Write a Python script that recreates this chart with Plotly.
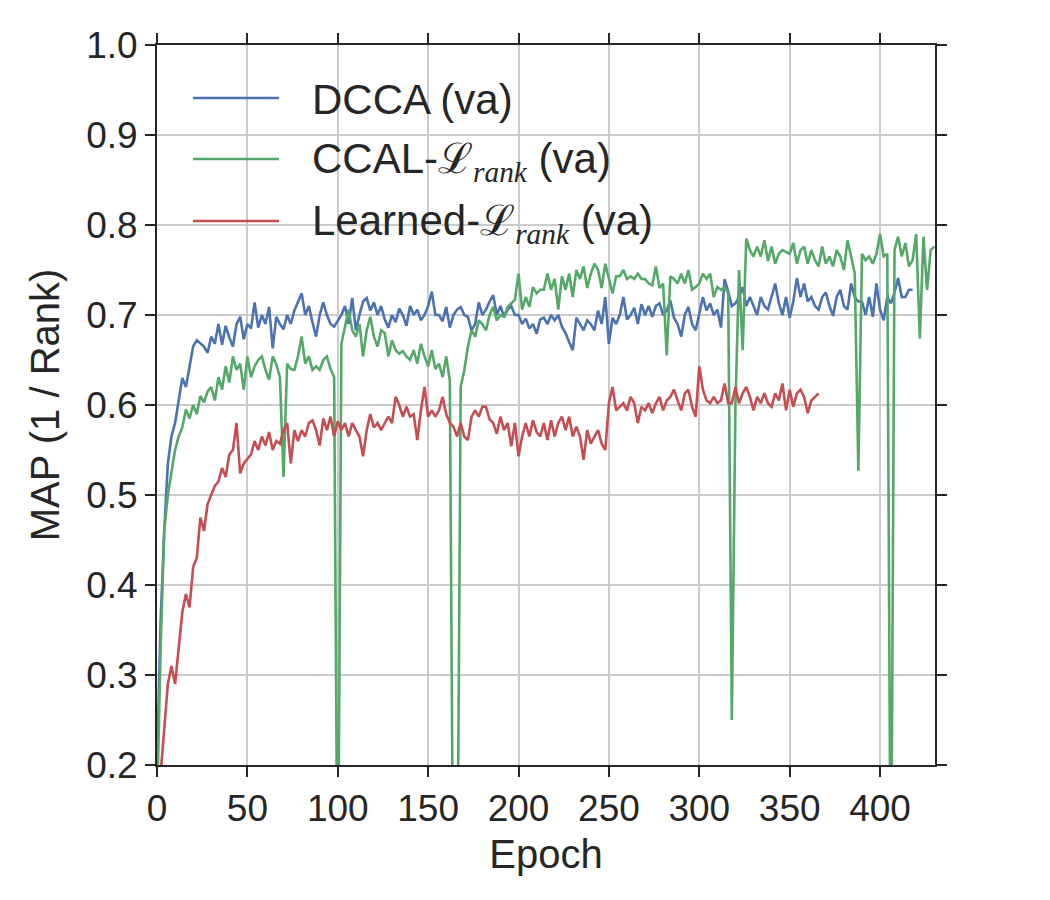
import plotly.graph_objects as go

# ---------------- data ----------------
dcca_epochs = list(range(0, 420, 2))
dcca_map = [
    0.20, 0.36, 0.46, 0.535, 0.565, 0.58, 0.605, 0.63, 0.62, 0.645,
    0.665, 0.672, 0.668, 0.665, 0.658, 0.676, 0.668, 0.69, 0.667, 0.688,
    0.675, 0.665, 0.69, 0.698, 0.673, 0.69, 0.685, 0.714, 0.686, 0.70,
    0.69, 0.709, 0.663, 0.698, 0.69, 0.684, 0.70, 0.69, 0.705, 0.715,
    0.724, 0.70, 0.71, 0.692, 0.676, 0.70, 0.714, 0.70, 0.69, 0.687,
    0.694, 0.70, 0.71, 0.69, 0.719, 0.683, 0.70, 0.715, 0.719, 0.705,
    0.714, 0.70, 0.71, 0.695, 0.686, 0.70, 0.692, 0.707, 0.70, 0.688,
    0.71, 0.70, 0.706, 0.694, 0.70, 0.71, 0.726, 0.70, 0.70, 0.693,
    0.709, 0.686, 0.70, 0.706, 0.709, 0.70, 0.698, 0.683, 0.69, 0.714,
    0.70, 0.706, 0.715, 0.722, 0.70, 0.71, 0.698, 0.706, 0.71, 0.70,
    0.70, 0.69, 0.696, 0.685, 0.69, 0.679, 0.695, 0.697, 0.69, 0.70,
    0.694, 0.70, 0.687, 0.68, 0.67, 0.661, 0.697, 0.69, 0.683, 0.694,
    0.69, 0.683, 0.705, 0.69, 0.72, 0.668, 0.697, 0.69, 0.70, 0.72,
    0.695, 0.70, 0.708, 0.69, 0.712, 0.70, 0.71, 0.698, 0.71, 0.713,
    0.70, 0.705, 0.716, 0.697, 0.69, 0.676, 0.70, 0.709, 0.69, 0.683,
    0.70, 0.72, 0.705, 0.713, 0.70, 0.706, 0.686, 0.74, 0.726, 0.71,
    0.713, 0.72, 0.731, 0.71, 0.72, 0.709, 0.70, 0.72, 0.71, 0.706,
    0.722, 0.735, 0.713, 0.70, 0.72, 0.697, 0.715, 0.741, 0.72, 0.735,
    0.715, 0.72, 0.71, 0.706, 0.72, 0.725, 0.71, 0.699, 0.72, 0.728,
    0.71, 0.706, 0.735, 0.72, 0.715, 0.715, 0.70, 0.72, 0.698, 0.735,
    0.706, 0.694, 0.72, 0.713, 0.725, 0.741, 0.72, 0.72, 0.728, 0.728,
]

ccal_epochs = list(range(0, 432, 2))
ccal_map = [
    0.15, 0.33, 0.46, 0.50, 0.525, 0.55, 0.565, 0.575, 0.595, 0.585,
    0.60, 0.59, 0.61, 0.603, 0.615, 0.62, 0.605, 0.631, 0.617, 0.643,
    0.625, 0.654, 0.639, 0.646, 0.617, 0.654, 0.631, 0.643, 0.65, 0.654,
    0.639, 0.628, 0.654, 0.645, 0.631, 0.52, 0.646, 0.64, 0.639, 0.654,
    0.676, 0.646, 0.654, 0.639, 0.643, 0.639, 0.65, 0.654, 0.64, 0.631,
    0.0, 0.668, 0.687, 0.706, 0.683, 0.676, 0.69, 0.654, 0.683, 0.698,
    0.676, 0.665, 0.683, 0.68, 0.654, 0.672, 0.661, 0.657, 0.66, 0.654,
    0.65, 0.661, 0.646, 0.668, 0.654, 0.643, 0.661, 0.64, 0.646, 0.631,
    0.654, 0.627, 0.0, 0.0, 0.62, 0.639, 0.665, 0.683, 0.676, 0.694,
    0.69, 0.683, 0.70, 0.709, 0.694, 0.70, 0.698, 0.709, 0.713, 0.717,
    0.746, 0.706, 0.72, 0.709, 0.731, 0.724, 0.728, 0.728, 0.746, 0.728,
    0.74, 0.706, 0.743, 0.728, 0.746, 0.72, 0.75, 0.74, 0.754, 0.73,
    0.746, 0.757, 0.75, 0.73, 0.757, 0.74, 0.724, 0.743, 0.743, 0.75,
    0.74, 0.743, 0.74, 0.746, 0.74, 0.74, 0.735, 0.733, 0.754, 0.73,
    0.735, 0.655, 0.743, 0.74, 0.735, 0.746, 0.735, 0.75, 0.728, 0.731,
    0.735, 0.746, 0.74, 0.746, 0.72, 0.731, 0.728, 0.731, 0.724, 0.25,
    0.60, 0.75, 0.661, 0.785, 0.772, 0.765, 0.776, 0.765, 0.783, 0.76,
    0.776, 0.757, 0.768, 0.772, 0.77, 0.768, 0.78, 0.757, 0.772, 0.776,
    0.757, 0.772, 0.761, 0.754, 0.776, 0.757, 0.765, 0.754, 0.772, 0.765,
    0.75, 0.783, 0.765, 0.746, 0.527, 0.768, 0.761, 0.765, 0.757, 0.768,
    0.79, 0.765, 0.768, 0.0, 0.772, 0.787, 0.765, 0.78, 0.754, 0.761,
    0.79, 0.674, 0.787, 0.728, 0.772, 0.776,
]

learned_epochs = list(range(2, 368, 2))
learned_map = [
    0.19, 0.245, 0.29, 0.31, 0.29, 0.33, 0.37, 0.39, 0.375, 0.42,
    0.43, 0.475, 0.46, 0.49, 0.50, 0.51, 0.515, 0.53, 0.52, 0.545,
    0.55, 0.58, 0.524, 0.535, 0.54, 0.545, 0.56, 0.55, 0.565, 0.555,
    0.57, 0.55, 0.56, 0.557, 0.572, 0.58, 0.535, 0.572, 0.56, 0.572,
    0.565, 0.58, 0.583, 0.572, 0.555, 0.585, 0.572, 0.587, 0.565, 0.582,
    0.572, 0.58, 0.565, 0.58, 0.572, 0.565, 0.543, 0.572, 0.59, 0.575,
    0.58, 0.572, 0.58, 0.587, 0.58, 0.609, 0.60, 0.587, 0.598, 0.587,
    0.59, 0.561, 0.594, 0.62, 0.587, 0.594, 0.587, 0.594, 0.609, 0.59,
    0.58, 0.576, 0.565, 0.58, 0.565, 0.561, 0.587, 0.594, 0.587, 0.598,
    0.598, 0.584, 0.58, 0.568, 0.587, 0.572, 0.58, 0.554, 0.58, 0.543,
    0.565, 0.58, 0.565, 0.583, 0.57, 0.565, 0.58, 0.561, 0.583, 0.565,
    0.58, 0.587, 0.572, 0.587, 0.565, 0.576, 0.565, 0.539, 0.572, 0.557,
    0.565, 0.572, 0.557, 0.55, 0.602, 0.62, 0.594, 0.598, 0.602, 0.594,
    0.609, 0.602, 0.58, 0.598, 0.594, 0.602, 0.591, 0.602, 0.609, 0.594,
    0.605, 0.609, 0.617, 0.605, 0.594, 0.613, 0.617, 0.598, 0.587, 0.643,
    0.617, 0.605, 0.602, 0.609, 0.602, 0.605, 0.624, 0.602, 0.602, 0.62,
    0.602, 0.613, 0.62, 0.609, 0.594, 0.609, 0.602, 0.613, 0.602, 0.598,
    0.613, 0.605, 0.624, 0.594, 0.617, 0.598, 0.613, 0.617, 0.609, 0.591,
    0.605, 0.609, 0.613,
]

series_names = ["DCCA (va)", "CCAL-\u2112rank (va)", "Learned-\u2112rank (va)"]
SCRIPT_L = "<span style='font-family:\"DejaVu Serif\"'>\u2112</span>"
RANK = "<sub><span style='font-family:\"Liberation Serif\";font-style:italic'>rank</span></sub>"
legend_labels = [
    "DCCA (va)",
    "CCAL-" + SCRIPT_L + RANK + " (va)",
    "Learned-" + SCRIPT_L + RANK + " (va)",
]
colors = ["#4C72B0", "#55A868", "#C44E52"]

x_ticks = [0, 50, 100, 150, 200, 250, 300, 350, 400]
y_ticks = [0.2, 0.3, 0.4, 0.5, 0.6, 0.7, 0.8, 0.9, 1.0]

# ---------------- figure ----------------
fig = go.Figure()
for xs, ys, name, c in zip(
    [dcca_epochs, ccal_epochs, learned_epochs],
    [dcca_map, ccal_map, learned_map],
    series_names, colors,
):
    fig.add_trace(go.Scatter(x=xs, y=ys, mode="lines", name=name,
                             line=dict(color=c, width=2.6), showlegend=False))

# legend drawn manually (long line samples like the reference)
W, H = 1050, 900
L, R, T, B = 157, 115, 45, 135
pw, ph = W - L - R, H - T - B


def px2paper(px, py):
    return (px - L) / pw, (H - B - py) / ph


for i, (lab, c) in enumerate(zip(legend_labels, colors)):
    py = [98, 159, 221][i]
    x0, y0 = px2paper(193, py)
    x1, _ = px2paper(279, py)
    fig.add_shape(type="line", xref="paper", yref="paper", x0=x0, x1=x1, y0=y0, y1=y0,
                  line=dict(color=c, width=2.6))
    tx, ty = px2paper(310, py + 2)
    fig.add_annotation(xref="paper", yref="paper", x=tx, y=ty, text=lab, showarrow=False,
                       xanchor="left", yanchor="middle",
                       font=dict(size=42, color="#262626", family="Liberation Sans, Arial"))

axis_common = dict(
    showline=True, linecolor="#262626", linewidth=2, mirror="ticks",
    ticks="outside", ticklen=10, tickwidth=2, tickcolor="#262626",
    showgrid=True, gridcolor="#cccccc", gridwidth=1.6, zeroline=False,
    tickfont=dict(size=37, color="#262626", family="Liberation Sans, Arial"),
)

fig.update_layout(
    width=W, height=H,
    margin=dict(l=L, r=R, t=T, b=B),
    paper_bgcolor="white", plot_bgcolor="white",
    font=dict(family="Liberation Sans, Arial", color="#262626"),
    xaxis=dict(range=[0, 430.4], tickvals=x_ticks, ticktext=[str(v) for v in x_ticks],
               title=dict(text="Epoch", font=dict(size=40, color="#262626"), standoff=12),
               **axis_common),
    yaxis=dict(range=[0.2, 1.0], tickvals=y_ticks, ticktext=[f"{v:.1f}" for v in y_ticks],
               title=dict(text="MAP (1 / Rank)", font=dict(size=40, color="#262626"), standoff=14),
               **axis_common),
)

fig.write_html("out.html")
